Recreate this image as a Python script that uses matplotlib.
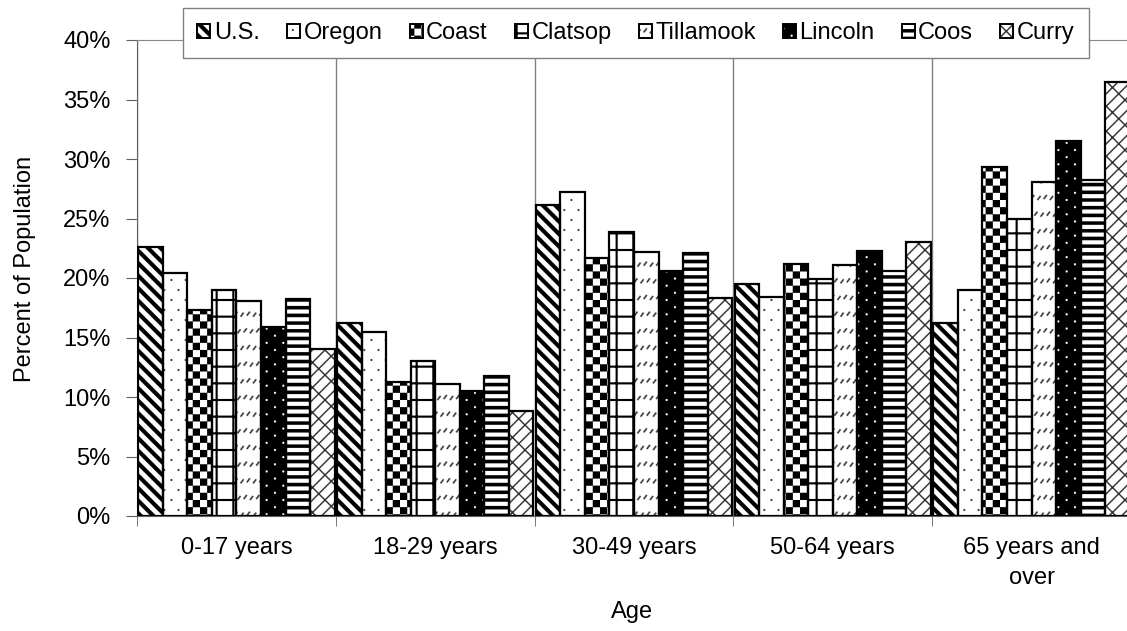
import warnings
import numpy as np
import matplotlib
matplotlib.use('Agg')
import matplotlib.pyplot as plt
import matplotlib.hatch as mhatch
from matplotlib.path import Path
from matplotlib.patches import Patch
from matplotlib.ticker import PercentFormatter

warnings.filterwarnings('ignore')

# ---- data (percent of population) ----
ages = ['0-17 years', '18-29 years', '30-49 years', '50-64 years', '65 years and\nover']
areas = ['U.S.', 'Oregon', 'Coast', 'Clatsop', 'Tillamook', 'Lincoln', 'Coos', 'Curry']
us = [22.6, 16.2, 26.1, 19.5, 16.2]
oregon = [20.4, 15.5, 27.2, 18.4, 19.0]
coast = [17.3, 11.3, 21.7, 21.2, 29.3]
clatsop = [19.0, 13.0, 23.9, 19.9, 25.0]
tillamook = [18.1, 11.1, 22.2, 21.1, 28.1]
lincoln = [15.9, 10.5, 20.6, 22.3, 31.5]
coos = [18.2, 11.8, 22.1, 20.6, 28.2]
curry = [14.0, 8.8, 18.3, 23.0, 36.5]
series = [us, oregon, coast, clatsop, tillamook, lincoln, coos, curry]


# ---- excel-like fill patterns, built as custom hatches ----
# one hatch tile is one inch (100 px at dpi 100), PX is one pixel in tile units
PX = 0.01


def ccw(poly):
    poly = [tuple(p) for p in poly]
    a = 0.0
    for (x0, y0), (x1, y1) in zip(poly, poly[1:] + poly[:1]):
        a += x0 * y1 - x1 * y0
    return poly if a > 0 else poly[::-1]


def seg(x0, y0, x1, y1, w):
    d = np.hypot(x1 - x0, y1 - y0)
    nx, ny = -(y1 - y0) / d * w / 2, (x1 - x0) / d * w / 2
    return [(x0 + nx, y0 + ny), (x1 + nx, y1 + ny), (x1 - nx, y1 - ny), (x0 - nx, y0 - ny)]


def dot(x, y, r):
    t = np.linspace(0, 2 * np.pi, 8, endpoint=False)
    return list(zip(x + r * np.cos(t), y + r * np.sin(t)))


def stripes():
    out = []
    for c in np.arange(-0.25, 2.3, 1 / 8):
        out.append(seg(c + 0.2, -0.2, c - 1.2, 1.2, 4 * PX))
    return out


def dots(rows, cols, r):
    out = []
    for i in range(rows + 1):
        shift = 0.5 / cols if i % 2 else 0
        for j in range(-1, cols + 1):
            out.append(dot(j / cols + shift, i / rows, r))
    return out


def checker():
    n = 14
    s = 1 / n
    out = []
    for i in range(n):
        for j in range(n):
            if (i + j) % 2 == 0:
                out.append([(i * s, j * s), ((i + 1) * s, j * s),
                            ((i + 1) * s, (j + 1) * s), (i * s, (j + 1) * s)])
    return out


def grid():
    out = []
    for k in range(7):
        v = k / 6
        out.append(seg(-0.1, v, 1.1, v, 2 * PX))
        out.append(seg(v, -0.1, v, 1.1, 2 * PX))
    return out


def dashes():
    out = []
    for i in range(7):
        y = i / 6
        shift = 1 / 32 if i % 2 else 0
        for j in range(-1, 17):
            x = j / 16 + shift
            out.append(seg(x, y + (j % 2) * PX, x + 3 * PX, y + 4 * PX + (j % 2) * PX, 1.6 * PX))
    return out


def hlines():
    out = []
    for k in range(14):
        v = k / 13
        out.append(seg(-0.1, v, 1.1, v, 3.4 * PX))
    return out


def bricks():
    p = 1 / 8
    out = []
    for lane, c in enumerate(np.arange(-1.25, 1.3, p)):
        out.append(seg(c - 0.2, -0.2, c + 1.2, 1.2, 1.3 * PX))
        for k in range(-2, 12):
            y0 = k * p + (lane % 2) * p / 2
            x0 = c + y0
            out.append(seg(x0, y0, x0 + p / 2, y0 - p / 2, 1.3 * PX))
    return out


PATTERNS = {'A': stripes, 'B': lambda: dots(10, 7, 1.1 * PX), 'C': checker,
            'D': grid, 'E': dashes, 'F': lambda: dots(14, 6, 1.1 * PX),
            'G': hlines, 'H': bricks}


class PolyHatch(mhatch.HatchPatternBase):
    def __init__(self, hatch, density):
        self.polys = [ccw(p) for ch, make in PATTERNS.items() if ch in hatch
                      for p in make()]
        self.num_vertices = sum(len(p) + 1 for p in self.polys)

    def set_vertices_and_codes(self, vertices, codes):
        i = 0
        for p in self.polys:
            n = len(p)
            vertices[i:i + n] = p
            vertices[i + n] = p[0]
            codes[i] = Path.MOVETO
            codes[i + 1:i + n] = Path.LINETO
            codes[i + n] = Path.CLOSEPOLY
            i += n + 1


mhatch._hatch_types.append(PolyHatch)

hatches = ['A', 'B', 'C', 'D', 'E', 'F', 'G', 'H']
faces = ['white', 'white', 'white', 'white', 'white', 'black', 'white', 'white']
hcolors = ['black', '#404040', 'black', 'black', '#404040', 'white', 'black', '#303030']

plt.rcParams['font.family'] = ['Liberation Sans', 'DejaVu Sans']
plt.rcParams['hatch.linewidth'] = 0.1

fig = plt.figure(figsize=(11.27, 6.31), dpi=100)
ax = fig.add_axes([137 / 1127, 115 / 631, 994 / 1127, 476 / 631])

x = np.arange(len(ages))
step = 0.1235
for i, vals in enumerate(series):
    pos = x + (i - 3.5) * step
    ax.bar(pos, vals, step, color=faces[i], edgecolor=hcolors[i], hatch=hatches[i],
           linewidth=0, zorder=2)
    ax.bar(pos, vals, step, fill=False, edgecolor='black', linewidth=1.6, zorder=3)

ax.set_xlim(-0.5, 4.5)
ax.set_ylim(0, 40)
ax.set_yticks(np.arange(0, 41, 5))
ax.yaxis.set_major_formatter(PercentFormatter(decimals=0))
ax.tick_params(axis='y', length=8, color='#606060', pad=11, labelsize=17)

ax.set_xticks(x)
ax.set_xticklabels(ages)
ax.set_xticks(np.arange(-0.5, 5, 1), minor=True)
ax.tick_params(axis='x', which='major', length=0, pad=15, labelsize=17)
ax.tick_params(axis='x', which='minor', length=7, color='#606060')
for lab in ax.get_xticklabels():
    lab.set_linespacing(1.5)
ax.xaxis.grid(True, which='minor', color='#808080', linewidth=1)
ax.set_axisbelow(True)

for side in ['left', 'bottom']:
    ax.spines[side].set_color('#606060')
ax.spines['top'].set_color('#888888')
ax.spines['right'].set_visible(False)

ax.set_ylabel('Percent of Population', fontsize=17)
ax.yaxis.set_label_coords(-0.102, 0.52)
ax.set_xlabel('Age', fontsize=17)
ax.xaxis.set_label_coords(0.498, -0.178)
ax.xaxis.label.set_va('top')

handles = [(Patch(facecolor=faces[i], edgecolor=hcolors[i], hatch=hatches[i], linewidth=0),
            Patch(fill=False, edgecolor='black', linewidth=1.4)) for i in range(len(areas))]
leg = fig.legend(handles, areas, loc='center', bbox_to_anchor=(636 / 1127, 1 - 33 / 631),
                 ncol=8, fancybox=False, framealpha=1, edgecolor='#808080',
                 handlelength=0.55, handleheight=0.55, handletextpad=0.15,
                 columnspacing=1.15, borderpad=0.6, fontsize=17)
leg.get_frame().set_linewidth(1.0)

fig.savefig('out.png', dpi=100)
